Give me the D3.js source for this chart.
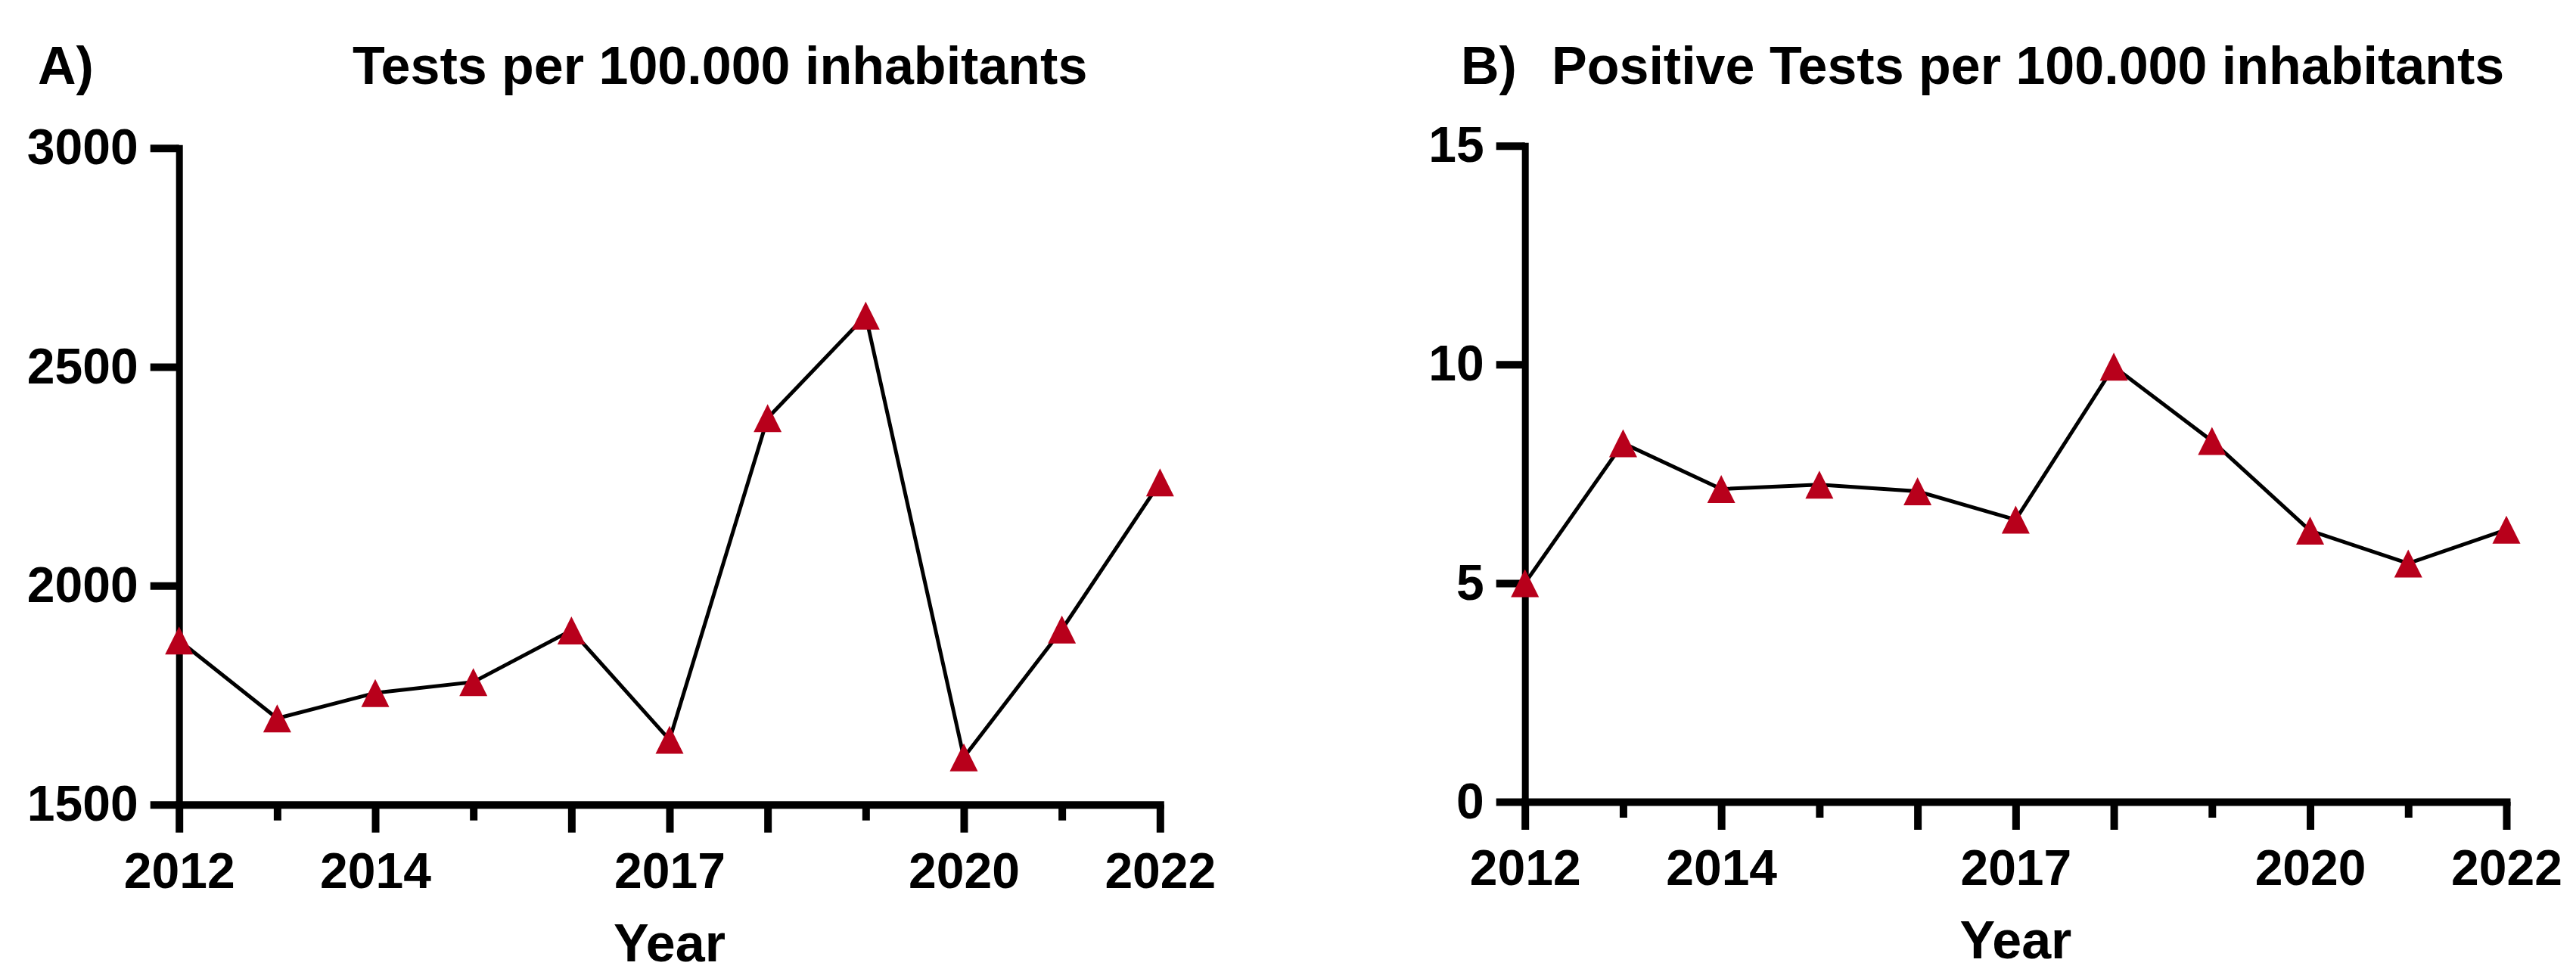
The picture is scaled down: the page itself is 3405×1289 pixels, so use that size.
<!DOCTYPE html>
<html>
<head>
<meta charset="utf-8">
<script src="https://cdn.jsdelivr.net/npm/d3@7"></script>
<style>
  body { margin: 0; background: #fff; }
  text { font-family: "Liberation Sans", Arial, Helvetica, sans-serif; font-weight: bold; fill: #000; }
</style>
</head>
<body>
<div id="chart"></div>
<script>
// data
var years = [2012, 2013, 2014, 2015, 2016, 2017, 2018, 2019, 2020, 2021, 2022];
var tests = [1875, 1697, 1755, 1780, 1898, 1648, 2383, 2617, 1608, 1900, 2236];
var positives = [5.0, 8.2, 7.15, 7.25, 7.1, 6.45, 9.95, 8.25, 6.2, 5.45, 6.22];

var majorYears = [2012, 2014, 2016, 2017, 2018, 2020, 2022];
var minorYears = [2013, 2015, 2019, 2021];
var labelYears = [2012, 2014, 2017, 2020, 2022];

var testsTicks = [1500, 2000, 2500, 3000];
var positiveTicks = [0, 5, 10, 15];

var width = 3405, height = 1289;
var red = "#b8001b";

var svg = d3.select("#chart")
  .append("svg")
  .attr("width", width)
  .attr("height", height)
  .style("display", "block");

svg.append("rect").attr("width", width).attr("height", height).attr("fill", "#fff");

// triangle marker centred on its bounding box
var triangle = {
  draw: function(context, size) {
    var w = Math.sqrt(size), h = w;
    context.moveTo(0, -h / 2);
    context.lineTo(w / 2, h / 2);
    context.lineTo(-w / 2, h / 2);
    context.closePath();
  }
};

var panel = function(opts) {
  var x = d3.scaleLinear().domain([2012, 2022]).range(opts.xRange);
  var y = d3.scaleLinear().domain(opts.yDomain).range(opts.yRange);
  var g = svg.append("g");

  // x axis: long ticks, then short ones
  var xMajor = d3.axisBottom(x)
    .tickValues(majorYears)
    .tickSize(37)
    .tickSizeOuter(0)
    .tickPadding(26)
    .tickFormat(function(d) { return labelYears.includes(d) ? d : ""; });
  var xMinor = d3.axisBottom(x)
    .tickValues(minorYears)
    .tickSize(21)
    .tickSizeOuter(0)
    .tickFormat("");

  var gx = g.append("g")
    .attr("transform", "translate(0," + y.range()[0] + ")")
    .call(xMajor);
  g.append("g")
    .attr("transform", "translate(0," + y.range()[0] + ")")
    .call(xMinor)
    .select(".domain").remove();

  var gy = g.append("g")
    .attr("transform", "translate(" + x.range()[0] + ",0)")
    .call(d3.axisLeft(y)
      .tickValues(opts.yTicks)
      .tickSize(38)
      .tickSizeOuter(0)
      .tickPadding(16)
      .tickFormat(d3.format("d")));

  g.selectAll(".tick line").attr("stroke", "#000").attr("stroke-width", 10);
  gx.select(".domain").attr("stroke", "#000").attr("stroke-width", 10).attr("stroke-linecap", "square");
  gy.select(".domain").attr("stroke", "#000").attr("stroke-width", 9).attr("stroke-linecap", "square");
  g.selectAll(".tick text")
    .attr("font-size", 66)
    .attr("font-family", "Liberation Sans, Arial, sans-serif")
    .attr("font-weight", "bold")
    .attr("fill", "#000");

  // data line
  var line = d3.line()
    .x(function(d, i) { return x(years[i]); })
    .y(function(d) { return y(d); });

  g.append("path")
    .datum(opts.values)
    .attr("d", line)
    .attr("fill", "none")
    .attr("stroke", "#000")
    .attr("stroke-width", 5);

  g.selectAll(".marker")
    .data(opts.values)
    .enter()
    .append("path")
    .attr("class", "marker")
    .attr("d", d3.symbol().type(triangle).size(37 * 37))
    .attr("transform", function(d, i) {
      return "translate(" + x(years[i]) + "," + y(d) + ")";
    })
    .attr("fill", red);

  // titles
  g.append("text")
    .attr("x", opts.letterX)
    .attr("y", 111)
    .attr("font-size", 70)
    .text(opts.letter);
  g.append("text")
    .attr("x", opts.titleX)
    .attr("y", 111)
    .attr("font-size", 70)
    .text(opts.title);

  g.append("text")
    .attr("x", (x.range()[0] + x.range()[1]) / 2)
    .attr("y", y.range()[0] + 207)
    .attr("text-anchor", "middle")
    .attr("font-size", 70)
    .text("Year");
};

panel({
  values: tests,
  yDomain: [1500, 3000],
  yTicks: testsTicks,
  xRange: [236.7, 1533.3],
  yRange: [1063.7, 195.7],
  letter: "A)",
  letterX: 50,
  title: "Tests per 100.000 inhabitants",
  titleX: 466
});

panel({
  values: positives,
  yDomain: [0, 15],
  yTicks: positiveTicks,
  xRange: [2015.7, 3313],
  yRange: [1060, 192.7],
  letter: "B)",
  letterX: 1931,
  title: "Positive Tests per 100.000 inhabitants",
  titleX: 2051
});
</script>
</body>
</html>
